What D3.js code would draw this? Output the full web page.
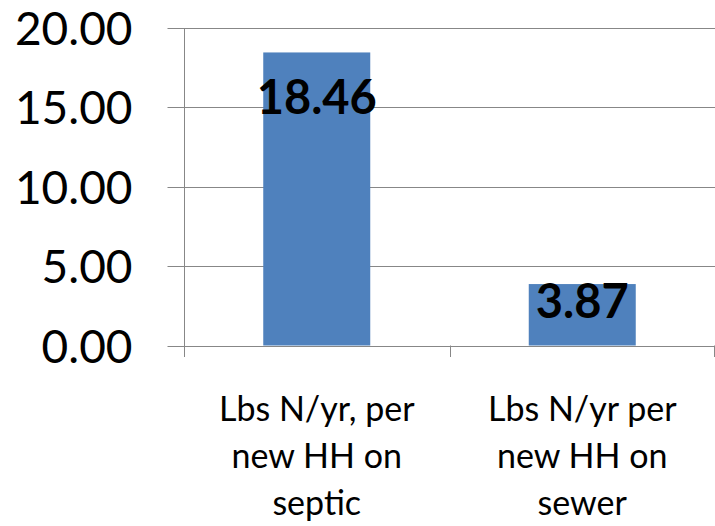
<!DOCTYPE html>
<html>
<head>
<meta charset="utf-8">
<script src="https://cdn.jsdelivr.net/npm/d3@7"></script>
<style>
  html, body { margin: 0; padding: 0; background: #fff; }
  svg { display: block; }
</style>
</head>
<body>
<svg id="chart" width="715" height="526"></svg>
<script>
// ---- data ----
const categories = ["Lbs N/yr, per new HH on septic", "Lbs N/yr per new HH on sewer"];
const categoryLines = [["Lbs N/yr, per", "new HH on", "septic"], ["Lbs N/yr per", "new HH on", "sewer"]];
const values = [18.46, 3.87];
const yTicks = [0, 5, 10, 15, 20];

// ---- layout ----
const plotLeft = 184, plotRight = 715, plotTop = 28, plotBottom = 345.5;
const font = "Lato, 'Open Sans', sans-serif";
const gridColor = "#878787";
const barColor = "#4F81BD";

const svg = d3.select("#chart");

const y = d3.scaleLinear().domain([0, 20]).range([plotBottom, plotTop]);
const x = d3.scaleBand().domain(categories).range([plotLeft, plotRight])
  .paddingInner(0.597).paddingOuter(0.597 / 2);
const xCat = d3.scaleBand().domain(categories).range([plotLeft, plotRight]);

// gridlines
svg.append("g").selectAll("line").data(yTicks).join("line")
  .attr("x1", plotLeft).attr("x2", plotRight)
  .attr("y1", d => Math.round(y(d)) + 0.5).attr("y2", d => Math.round(y(d)) + 0.5)
  .attr("stroke", gridColor).attr("stroke-width", 1);

// bars
svg.append("g").selectAll("rect").data(values).join("rect")
  .attr("x", (d, i) => x(categories[i]))
  .attr("width", x.bandwidth())
  .attr("y", d => y(d))
  .attr("height", d => y(0) - y(d))
  .attr("fill", barColor);

// y axis
const yAxis = d3.axisLeft(y).tickValues(yTicks).tickFormat(d3.format(".2f"))
  .tickSize(17).tickPadding(35);
const gy = svg.append("g").attr("transform", `translate(${plotLeft + 0.5},0)`).call(yAxis);
gy.select(".domain").remove();
gy.selectAll(".tick").attr("transform", d => `translate(0,${Math.round(y(d)) + 0.5})`);
gy.selectAll(".tick line").attr("stroke", gridColor);
gy.selectAll(".tick text")
  .attr("font-family", font).attr("font-size", 46).attr("fill", "#000")
  .attr("dy", "0.36em");
gy.append("line").attr("x1", 0).attr("x2", 0)
  .attr("y1", plotTop).attr("y2", plotBottom + 11).attr("stroke", gridColor);

// x axis ticks (category boundaries)
const bounds = [plotLeft, plotLeft + xCat.step(), plotRight - 1];
svg.append("g").selectAll("line").data(bounds).join("line")
  .attr("x1", d => Math.round(d) + 0.5).attr("x2", d => Math.round(d) + 0.5)
  .attr("y1", plotBottom).attr("y2", plotBottom + 11.5)
  .attr("stroke", gridColor);

// value labels
const labelOffset = [45, 17];
svg.append("g").selectAll("text").data(values).join("text")
  .attr("x", (d, i) => x(categories[i]) + x.bandwidth() / 2)
  .attr("y", (d, i) => y(d) + labelOffset[i])
  .attr("dy", "0.36em")
  .attr("text-anchor", "middle")
  .attr("font-family", font).attr("font-weight", "bold").attr("font-size", 47)
  .attr("fill", "#000")
  .text(d => d3.format(".2f")(d));

// category labels
const cl = svg.append("g");
categories.forEach((c, i) => {
  const cx = xCat(c) + xCat.bandwidth() / 2;
  const t = cl.append("text")
    .attr("text-anchor", "middle")
    .attr("font-family", font).attr("font-size", 34).attr("fill", "#000");
  categoryLines[i].forEach((ln, j) => {
    t.append("tspan").attr("x", cx).attr("y", 421 + j * 47).text(ln);
  });
});
</script>
</body>
</html>
